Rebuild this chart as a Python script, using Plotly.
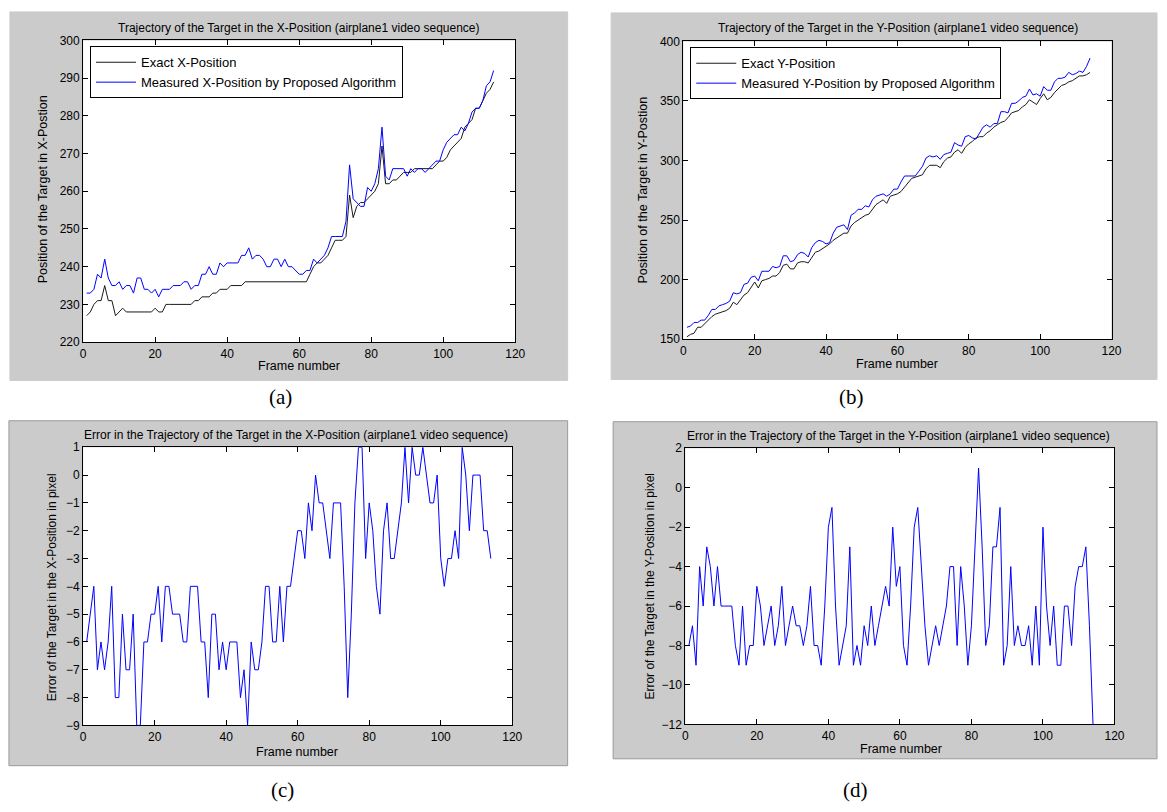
import plotly.graph_objects as go

W, H = 1167, 812

frames = list(range(1, 115))

exact_x = [227, 228, 230, 231, 231, 235, 231, 231, 227, 228,
           229, 228, 228, 228, 228, 228, 228, 228, 228, 229,
           228, 228, 230, 230, 230, 230, 230, 230, 230, 230,
           231, 231, 232, 232, 232, 233, 233, 234, 234, 234,
           235, 235, 235, 235, 236, 236, 236, 236, 236, 236,
           236, 236, 236, 236, 236, 236, 236, 236, 236, 236,
           236, 236, 238, 240, 241, 241, 242, 243, 245, 247,
           247, 247, 248, 259, 253, 256, 257, 257, 258, 259,
           260, 262, 272, 262, 262, 263, 263, 264, 265, 265,
           265, 266, 266, 266, 266, 266, 266, 267, 268, 268,
           269, 271, 272, 273, 274, 277, 278, 279, 282, 282,
           284, 286, 287, 289]

measured_x = [233, 233, 234, 238, 237, 242, 237, 235, 235, 236,
              234, 235, 235, 233, 237, 237, 234, 234, 233, 234,
              232, 234, 234, 234, 235, 235, 235, 236, 236, 234,
              235, 235, 238, 238, 240, 238, 238, 241, 240, 241,
              241, 241, 241, 243, 243, 245, 242, 243, 243, 242,
              240, 240, 242, 242, 240, 242, 240, 240, 239, 238,
              238, 239, 239, 242, 241, 242, 243, 245, 248, 248,
              248, 248, 252, 267, 258, 257, 256, 256, 261, 260,
              262, 266, 277, 264, 263, 266, 266, 266, 266, 264,
              266, 265, 266, 266, 265, 266, 267, 268, 268, 271,
              273, 274, 275, 275, 277, 276, 278, 281, 282, 282,
              284, 288, 289, 292]

exact_y = [152, 154, 155, 160, 160, 163, 166, 169, 171, 172,
           173, 174, 176, 181, 179, 183, 187, 189, 194, 198,
           193, 199, 200, 201, 203, 203, 206, 212, 213, 209,
           209, 214, 215, 215, 214, 219, 223, 224, 226, 228,
           230, 233, 235, 237, 239, 239, 245, 248, 250, 252,
           254, 255, 259, 263, 265, 267, 264, 270, 271, 272,
           274, 278, 281, 285, 286, 287, 288, 293, 296, 296,
           296, 294, 299, 302, 303, 307, 309, 306, 311, 314,
           316, 319, 320, 320, 323, 325, 328, 330, 332, 333,
           336, 340, 341, 342, 345, 347, 351, 349, 347, 352,
           356, 351, 353, 357, 360, 363, 364, 366, 367, 369,
           371, 371, 372, 374]

measured_y = [160, 161, 164, 164, 166, 166, 170, 175, 175, 178,
              179, 180, 182, 189, 188, 189, 196, 197, 202, 203,
              199, 207, 207, 207, 211, 210, 211, 220, 220, 215,
              216, 221, 223, 222, 219, 227, 231, 233, 232, 230,
              231, 239, 244, 245, 246, 242, 254, 256, 259, 259,
              262, 261, 267, 270, 271, 272, 270, 272, 276, 276,
              282, 287, 287, 287, 287, 291, 295, 302, 304, 303,
              304, 301, 305, 306, 307, 315, 313, 312, 320, 321,
              319, 318, 323, 328, 330, 328, 331, 331, 341, 341,
              340, 348, 348, 350, 353, 354, 360, 355, 356, 354,
              362, 359, 359, 366, 369, 369, 370, 374, 372, 373,
              375, 374, 379, 386]

error_x = [-6, -5, -4, -7, -6, -7, -6, -4, -8, -8,
           -5, -7, -7, -5, -9, -9, -6, -6, -5, -5,
           -4, -6, -4, -4, -5, -5, -5, -6, -6, -4,
           -4, -4, -6, -6, -8, -5, -5, -7, -6, -7,
           -6, -6, -6, -8, -7, -9, -6, -7, -7, -6,
           -4, -4, -6, -6, -4, -6, -4, -4, -3, -2,
           -2, -3, -1, -2, 0, -1, -1, -2, -3, -1,
           -1, -1, -4, -8, -5, -1, 1, 1, -3, -1,
           -2, -4, -5, -2, -1, -3, -3, -2, -1, 1,
           -1, 1, 0, 0, 1, 0, -1, -1, 0, -3,
           -4, -3, -3, -2, -3, 1, 0, -2, 0, 0,
           0, -2, -2, -3]

error_y = [-8, -7, -9, -4, -6, -3, -4, -6, -4, -6,
           -6, -6, -6, -8, -9, -6, -9, -8, -8, -5,
           -6, -8, -7, -6, -8, -7, -5, -8, -7, -6,
           -7, -7, -8, -7, -5, -8, -8, -9, -6, -2,
           -1, -6, -9, -8, -7, -3, -9, -8, -9, -7,
           -8, -6, -8, -7, -6, -5, -6, -2, -5, -4,
           -8, -9, -6, -2, -1, -4, -7, -9, -8, -7,
           -8, -7, -6, -4, -4, -8, -4, -6, -9, -7,
           -3, 1, -3, -8, -7, -3, -3, -1, -9, -8,
           -4, -8, -7, -8, -8, -7, -9, -6, -9, -2,
           -6, -8, -6, -9, -9, -6, -6, -8, -5, -4,
           -4, -3, -7, -12]

x_ticks = [0, 20, 40, 60, 80, 100, 120]

FONT = "Liberation Sans, Arial, sans-serif"
SERIF = "Liberation Serif, Times New Roman, serif"
BLACK_LINE = "#1a1a1a"
BLUE_LINE = "#0000ff"
PANEL = "#cbcbcb"


def px_x(p):
    return p / W


def px_y(p):
    return 1 - p / H


# plot areas in pixels: (left, top, right, bottom)
areas = {
    "a": (81, 34, 518, 341),
    "b": (688, 35, 1121, 338),
    "c": (81, 448, 515, 731),
    "d": (690, 449, 1124, 730),
}
# grey figure panels in pixels
panels = {
    "a": (7, 5, 571, 380),
    "b": (615, 6, 1167, 379),
    "c": (6, 421, 571, 772),
    "d": (617, 422, 1167, 765),
}

fig = go.Figure()

fig.add_trace(go.Scatter(x=frames, y=exact_x, mode="lines", name="Exact X-Position",
                         line=dict(color=BLACK_LINE, width=1), xaxis="x", yaxis="y",
                         legend="legend"))
fig.add_trace(go.Scatter(x=frames, y=measured_x, mode="lines",
                         name="Measured X-Position by Proposed Algorithm",
                         line=dict(color=BLUE_LINE, width=1), xaxis="x", yaxis="y",
                         legend="legend"))
fig.add_trace(go.Scatter(x=frames, y=exact_y, mode="lines", name="Exact Y-Position",
                         line=dict(color=BLACK_LINE, width=1), xaxis="x2", yaxis="y2",
                         legend="legend2"))
fig.add_trace(go.Scatter(x=frames, y=measured_y, mode="lines",
                         name="Measured Y-Position by Proposed Algorithm",
                         line=dict(color=BLUE_LINE, width=1), xaxis="x2", yaxis="y2",
                         legend="legend2"))
fig.add_trace(go.Scatter(x=frames, y=error_x, mode="lines", showlegend=False,
                         line=dict(color=BLUE_LINE, width=1), xaxis="x3", yaxis="y3"))
fig.add_trace(go.Scatter(x=frames, y=error_y, mode="lines", showlegend=False,
                         line=dict(color=BLUE_LINE, width=1), xaxis="x4", yaxis="y4"))


def axis(domain, rng, tickvals, anchor):
    return dict(domain=domain, range=rng, tickvals=tickvals, anchor=anchor,
                showline=True, linecolor="black", linewidth=1, mirror="ticks",
                ticks="inside", ticklen=5, tickcolor="black", showgrid=False,
                zeroline=False, tickfont=dict(family=FONT, size=12, color="black"),
                fixedrange=True)


def dom(key):
    l, t, r, b = areas[key]
    return [px_x(l), px_x(r)], [px_y(b), px_y(t)]


xa, ya = dom("a")
xb, yb = dom("b")
xc, yc = dom("c")
xd, yd = dom("d")


def legend_box(x, y):
    return dict(x=px_x(x), y=px_y(y), xanchor="left", yanchor="top",
                bgcolor="white", bordercolor="black", borderwidth=1,
                itemwidth=40, tracegroupgap=0,
                font=dict(family=FONT, size=13, color="black"))


layout = dict(
    width=W, height=H,
    margin=dict(l=0, r=0, t=0, b=0),
    paper_bgcolor="white", plot_bgcolor="white",
    font=dict(family=FONT, size=12, color="black"),
    xaxis=axis(xa, [0, 120], x_ticks, "y"),
    yaxis=axis(ya, [220, 300], [220, 230, 240, 250, 260, 270, 280, 290, 300], "x"),
    xaxis2=axis(xb, [0, 120], x_ticks, "y2"),
    yaxis2=axis(yb, [150, 400], [150, 200, 250, 300, 350, 400], "x2"),
    xaxis3=axis(xc, [0, 120], x_ticks, "y3"),
    yaxis3=axis(yc, [-9, 1], list(range(-9, 2)), "x3"),
    xaxis4=axis(xd, [0, 120], x_ticks, "y4"),
    yaxis4=axis(yd, [-12, 2], [-12, -10, -8, -6, -4, -2, 0, 2], "x4"),
    legend=legend_box(88, 40),
    legend2=legend_box(695, 41),
)
fig.update_layout(**layout)

shapes = []
for key in ["a", "b", "c", "d"]:
    l, t, r, b = panels[key]
    border = "#9a9a9a" if key in ("c", "d") else PANEL
    shapes.append(dict(type="rect", xref="paper", yref="paper", layer="below",
                       x0=px_x(l), x1=px_x(r), y0=px_y(b), y1=px_y(t),
                       fillcolor=PANEL, line=dict(color=border, width=1)))
    l, t, r, b = areas[key]
    shapes.append(dict(type="rect", xref="paper", yref="paper", layer="below",
                       x0=px_x(l), x1=px_x(r), y0=px_y(b), y1=px_y(t),
                       fillcolor="white", line=dict(width=0)))
fig.update_layout(shapes=shapes)

annotations = []


def text(x, y, s, size=12, angle=0, family=FONT):
    annotations.append(dict(x=px_x(x), y=px_y(y), xref="paper", yref="paper",
                            text=s, showarrow=False, textangle=angle,
                            xanchor="center", yanchor="middle",
                            font=dict(family=family, size=size, color="black")))


# titles
text(299, 21, "Trajectory of the Target in the X-Position (airplane1 video sequence)", 12)
text(905, 21, "Trajectory of the Target in the Y-Position (airplane1 video sequence)", 12)
text(296, 435, "Error in the Trajectory of the Target in the X-Position (airplane1 video sequence)", 12)
text(906, 437, "Error in the Trajectory of the Target in the Y-Position (airplane1 video sequence)", 12)

# x-axis titles
text(299, 365, "Frame number", 12.5)
text(904, 363, "Frame number", 12.5)
text(297, 758, "Frame number", 12.5)
text(908, 755, "Frame number", 12.5)

# y-axis titles
text(40, 186, "Position of the Target in X-Postion", 12.5, -90)
text(647, 186, "Position of the Target in Y-Postion", 12.5, -90)
text(49, 590, "Error of the Target in the X-Position in pixel", 12, -90)
text(654, 589, "Error of the Target in the Y-Position in pixel", 12, -90)

# panel labels
text(281, 397, "(a)", 21, 0, SERIF)
text(858, 397, "(b)", 21, 0, SERIF)
text(283, 797, "(c)", 21, 0, SERIF)
text(862, 797, "(d)", 21, 0, SERIF)

fig.update_layout(annotations=annotations)

fig.write_html("out.html")
